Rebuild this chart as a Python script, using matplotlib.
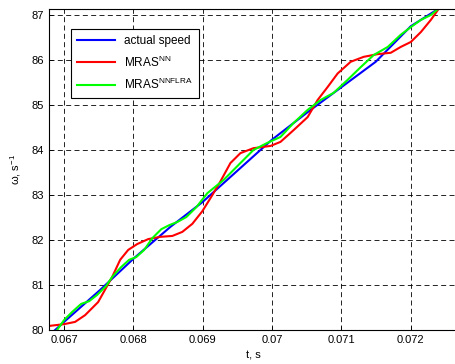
import matplotlib.pyplot as plt

plt.rcParams['font.family'] = ['Liberation Sans', 'DejaVu Sans']

# actual speed
t_actual = [0.06685, 0.06700, 0.06752, 0.068012, 0.068532, 0.068994, 0.069543,
            0.069991, 0.070512, 0.071003, 0.071494, 0.072000, 0.072390, 0.07260]
w_actual = [79.97, 80.18, 80.89, 81.60, 82.29, 82.84, 83.60,
            84.22, 84.84, 85.40, 85.96, 86.75, 87.13, 87.45]

# MRAS NN
t_nn = [0.066783, 0.067000, 0.067159, 0.067303, 0.067491, 0.067694, 0.067809,
        0.067925, 0.068055, 0.068214, 0.068387, 0.068561, 0.068705, 0.068850,
        0.068994, 0.069139, 0.069254, 0.069399, 0.069543, 0.069731, 0.069977,
        0.070121, 0.070309, 0.070512, 0.070656, 0.070801, 0.070945, 0.071133,
        0.071321, 0.071523, 0.071711, 0.071855, 0.072000, 0.072145, 0.072289,
        0.072390, 0.07250]
w_nn = [80.09, 80.13, 80.18, 80.33, 80.62, 81.18, 81.56,
        81.78, 81.91, 82.02, 82.07, 82.09, 82.18, 82.36,
        82.64, 83.00, 83.30, 83.71, 83.93, 84.04, 84.09,
        84.18, 84.44, 84.73, 85.11, 85.40, 85.70, 85.96,
        86.07, 86.13, 86.16, 86.29, 86.40, 86.62, 86.89,
        87.11, 87.40]

# MRAS NNFLRA
t_fl = [0.06685, 0.066899, 0.067000, 0.067116, 0.067246, 0.067361, 0.067477,
        0.067607, 0.067694, 0.067824, 0.067939, 0.068040, 0.068156, 0.068272,
        0.068402, 0.068517, 0.068633, 0.068763, 0.068908, 0.069066, 0.069298,
        0.069543, 0.069731, 0.069934, 0.070121, 0.070309, 0.070512, 0.070699,
        0.070887, 0.071090, 0.071277, 0.071465, 0.071668, 0.071855, 0.072000,
        0.072145, 0.072289, 0.072390, 0.07258]
w_fl = [79.92, 80.00, 80.22, 80.40, 80.58, 80.64, 80.78,
        80.98, 81.18, 81.40, 81.56, 81.62, 81.78, 82.04,
        82.24, 82.33, 82.40, 82.51, 82.73, 83.04, 83.33,
        83.71, 84.00, 84.16, 84.29, 84.60, 84.89, 85.11,
        85.27, 85.56, 85.84, 86.11, 86.29, 86.56, 86.73,
        86.89, 87.00, 87.13, 87.40]

xticks = [0.067, 0.068, 0.069, 0.070, 0.071, 0.072]
xticklabels = ['0.067', '0.068', '0.069', '0.07', '0.071', '0.072']
yticks = [80, 81, 82, 83, 84, 85, 86, 87]

fig = plt.figure(figsize=(4.56, 3.64), dpi=100)
ax = fig.add_axes([0.1075, 0.0934, 0.8945, 0.8819])

ax.plot(t_actual, w_actual, color=(0, 0, 1), lw=1.5, label='actual speed')
ax.plot(t_nn, w_nn, color=(1, 0, 0), lw=1.5, label='MRAS$^{\\mathregular{NN}}$')
ax.plot(t_fl, w_fl, color=(0, 1, 0), lw=1.5, label='MRAS$^{\\mathregular{NNFLRA}}$')

ax.set_xlim(0.066783, 0.072665)
ax.set_ylim(80, 87.133)
ax.set_xticks(xticks)
ax.set_xticklabels(xticklabels)
ax.set_yticks(yticks)
ax.tick_params(direction='in', labelsize=8, length=3, width=0.6)
ax.grid(True, color='black', linestyle=(0, (6, 4)), linewidth=0.6)
for s in ax.spines.values():
    s.set_linewidth(0.8)
ax.spines['right'].set_visible(False)

ax.set_xlabel('t, s', fontsize=8, labelpad=4)
ax.set_ylabel('ω, s$^{\\mathregular{-1}}$', fontsize=8, labelpad=6)

leg = ax.legend(loc='upper left', bbox_to_anchor=(0.04, 0.955), fontsize=8.5,
                fancybox=False, edgecolor='black', framealpha=1,
                handlelength=3.2, borderpad=0.5, labelspacing=0.6)
leg.get_frame().set_linewidth(0.8)

fig.savefig('out.png', dpi=100)
